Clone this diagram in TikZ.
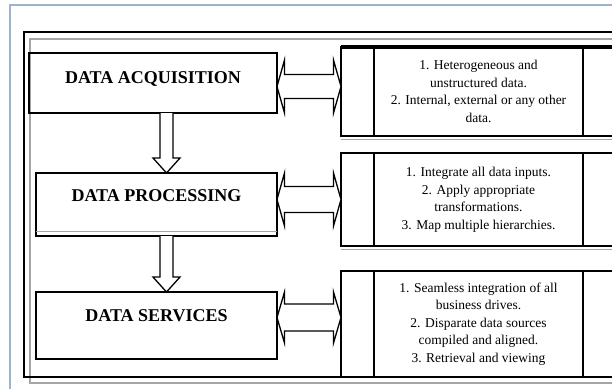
\documentclass[tikz,border=0pt]{standalone}
\usepackage{fontspec}
\setmainfont{Liberation Serif}
\usetikzlibrary{positioning, calc}

\definecolor{frameblue}{RGB}{158,178,205}
\definecolor{shadegray}{RGB}{165,165,165}

\begin{document}
\begin{tikzpicture}[
  x=1pt, y=-1pt,
  stagebox/.style={draw, rectangle, line width=1.8pt, outer sep=0pt, inner sep=0pt},
  stagetext/.style={font=\fontsize{18}{21}\selectfont\bfseries},
  infocell/.style={draw, rectangle, line width=1.8pt, outer sep=0pt, inner sep=0pt, align=center, font=\fontsize{13.5}{17.5}\selectfont},
  sidecell/.style={draw, rectangle, line width=1.8pt, outer sep=0pt, inner sep=0pt},
  blockarrow/.style={draw, line width=1.3pt, fill=white, line join=miter},
  shadeline/.style={shadegray, line width=1.2pt}
]
\useasboundingbox (0,0) rectangle (612,388);

% frames
\draw[frameblue, line width=1.2pt] (10,5) rectangle (640,400);
\draw[shadegray, line width=1.3pt] (30,39) rectangle (640,383);
\draw[line width=2.6pt] (24,32) rectangle (640,377);

% stages
\node[stagebox, minimum width=248pt, minimum height=60pt] (Acq) at (153,83) {};
\node[stagetext] (AcqText) at ([yshift=4pt]Acq.center) {DATA ACQUISITION};

\node[stagebox, minimum width=241pt, minimum height=63pt] (Proc) at (156.5,204.5) {};
\node[stagetext] (ProcText) at ([yshift=9pt]Proc.center) {DATA PROCESSING};

\node[stagebox, minimum width=241pt, minimum height=67pt] (Serv) at (156.5,325.5) {};
\node[stagetext] (ServText) at ([yshift=10pt]Serv.center) {DATA SERVICES};

% details
\node[infocell, minimum width=209pt, minimum height=89pt] (AcqInfo) at (478.5,91.5)
  {1. Heterogeneous and\\unstructured data.\\2. Internal, external or any other\\data.};
\node[sidecell, minimum width=33pt, minimum height=89pt, left=0pt of AcqInfo] (AcqTab) {};
\node[sidecell, minimum width=80pt, minimum height=89pt, right=0pt of AcqInfo] (AcqTail) {};

\node[infocell, minimum width=209pt, minimum height=93pt] (ProcInfo) at (478.5,199.5)
  {1. Integrate all data inputs.\\2. Apply appropriate\\transformations.\\3. Map multiple hierarchies.};
\node[sidecell, minimum width=33pt, minimum height=93pt, left=0pt of ProcInfo] (ProcTab) {};
\node[sidecell, minimum width=80pt, minimum height=93pt, right=0pt of ProcInfo] (ProcTail) {};

\node[infocell, minimum width=209pt, minimum height=106pt] (ServInfo) at (478.5,324)
  {1. Seamless integration of all\\business drives.\\2. Disparate data sources\\compiled and aligned.\\3. Retrieval and viewing};
\node[sidecell, minimum width=33pt, minimum height=106pt, left=0pt of ServInfo] (ServTab) {};
\node[sidecell, minimum width=80pt, minimum height=106pt, right=0pt of ServInfo] (ServTail) {};

\draw[line width=4.5pt] (AcqTab.north west) -- (AcqTail.north east);
\draw[shadeline] ([yshift=-3.5pt]AcqTab.south west) -- ([yshift=-3.5pt]AcqTail.south east);
\draw[shadeline] ([yshift=-3.5pt]ProcTab.south west) -- ([yshift=-3.5pt]ProcTail.south east);
\draw[shadeline] ([yshift=4.5pt]Proc.south west) -- ([yshift=4.5pt]Proc.south east);

% flow down
\coordinate (D1s) at ($(Acq.south)+(13.5,0)$);
\coordinate (D1t) at (D1s |- Proc.north);
\draw[blockarrow] ($(D1s)+(-6.5,0)$) -- ($(D1t)+(-6.5,-15)$) -- ($(D1t)+(-13.5,-15)$) -- (D1t)
  -- ($(D1t)+(13.5,-15)$) -- ($(D1t)+(6.5,-15)$) -- ($(D1s)+(6.5,0)$);

\coordinate (D2s) at ($(Proc.south)+(10,0)$);
\coordinate (D2t) at (D2s |- Serv.north);
\draw[blockarrow] ($(D2s)+(-6.5,0)$) -- ($(D2t)+(-6.5,-15)$) -- ($(D2t)+(-13.5,-15)$) -- (D2t)
  -- ($(D2t)+(13.5,-15)$) -- ($(D2t)+(6.5,-15)$) -- ($(D2s)+(6.5,0)$);

% two-way links
\coordinate (H1l) at ([yshift=-3.5pt]Acq.east);
\coordinate (H1r) at (H1l -| AcqTab.west);
\draw[blockarrow] (H1l) -- ($(H1l)+(7.5,-26.5)$) -- ($(H1l)+(7.5,-12)$) -- ($(H1r)+(-7.5,-12)$)
  -- ($(H1r)+(-7.5,-26.5)$) -- (H1r) -- ($(H1r)+(-7.5,26.5)$) -- ($(H1r)+(-7.5,12)$)
  -- ($(H1l)+(7.5,12)$) -- ($(H1l)+(7.5,26.5)$) -- cycle;

\coordinate (H2l) at ([yshift=5pt]Proc.east);
\coordinate (H2r) at (H2l -| ProcTab.west);
\draw[blockarrow] (H2l) -- ($(H2l)+(7.5,-26.5)$) -- ($(H2l)+(7.5,-13)$) -- ($(H2r)+(-7.5,-13)$)
  -- ($(H2r)+(-7.5,-26.5)$) -- (H2r) -- ($(H2r)+(-7.5,26.5)$) -- ($(H2r)+(-7.5,13)$)
  -- ($(H2l)+(7.5,13)$) -- ($(H2l)+(7.5,26.5)$) -- cycle;

\coordinate (H3l) at ([yshift=8pt]Serv.east);
\coordinate (H3r) at (H3l -| ServTab.west);
\draw[blockarrow] (H3l) -- ($(H3l)+(7.5,-25.5)$) -- ($(H3l)+(7.5,-13.5)$) -- ($(H3r)+(-7.5,-13.5)$)
  -- ($(H3r)+(-7.5,-25.5)$) -- (H3r) -- ($(H3r)+(-7.5,25.5)$) -- ($(H3r)+(-7.5,13.5)$)
  -- ($(H3l)+(7.5,13.5)$) -- ($(H3l)+(7.5,25.5)$) -- cycle;
\end{tikzpicture}
\end{document}
